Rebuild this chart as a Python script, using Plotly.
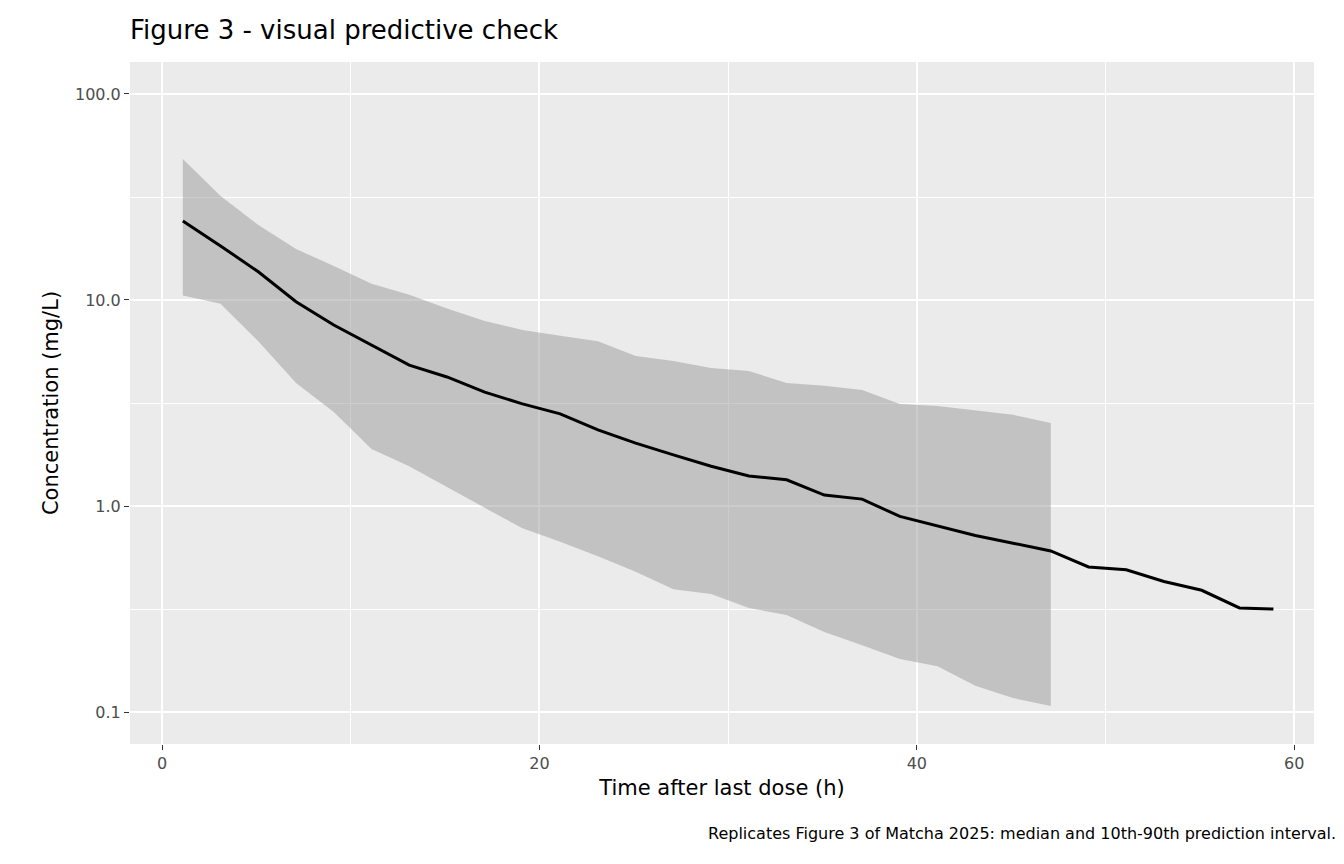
import plotly.graph_objects as go

# times (h) and concentrations (mg/L)
time = [1.1 + 2 * i for i in range(29)] + [58.9]
median = [24.2, 18.3, 13.7, 9.8, 7.56, 6.05, 4.83, 4.23, 3.57, 3.13, 2.80, 2.34,
          2.02, 1.77, 1.56, 1.40, 1.34, 1.13, 1.08, 0.89, 0.80, 0.72, 0.66, 0.605,
          0.506, 0.49, 0.43, 0.39, 0.32, 0.316]
band_time = time[:24]
upper = [48.3, 32.0, 23.1, 17.7, 14.6, 12.0, 10.6, 9.1, 7.9, 7.15, 6.7, 6.3,
         5.35, 5.06, 4.68, 4.52, 3.95, 3.83, 3.66, 3.13, 3.06, 2.92, 2.77, 2.53]
lower = [10.5, 9.6, 6.3, 3.95, 2.86, 1.89, 1.56, 1.24, 0.98, 0.78, 0.67, 0.57,
         0.48, 0.395, 0.374, 0.32, 0.296, 0.245, 0.211, 0.181, 0.167, 0.134, 0.117, 0.107]

fig = go.Figure()
fig.add_trace(go.Scatter(x=band_time + band_time[::-1], y=upper + lower[::-1],
                         fill="toself", fillcolor="rgba(153,153,153,0.5)",
                         line=dict(width=0), mode="lines", hoverinfo="skip"))
fig.add_trace(go.Scatter(x=time, y=median, mode="lines",
                         line=dict(color="black", width=3)))

fig.update_layout(
    width=1344, height=864, showlegend=False,
    font=dict(family="DejaVu Sans", color="black"),
    paper_bgcolor="white", plot_bgcolor="#EBEBEB",
    margin=dict(l=122, r=38, t=54, b=128),
    title=dict(text="Figure 3 - visual predictive check", x=122 / 1344, xanchor="left",
               y=0.975, yanchor="middle", font=dict(size=26)),
    xaxis=dict(range=[-1.7, 61.05], tickvals=[0, 20, 40, 60], showgrid=True,
               gridcolor="white", gridwidth=2, zeroline=False, ticks="outside",
               ticklen=5, tickcolor="#333333", tickfont=dict(size=16, color="#4D4D4D"),
               title=dict(text="Time after last dose (h)", font=dict(size=21), standoff=8),
               minor=dict(tickvals=[10, 30, 50], showgrid=True, gridcolor="white",
                          gridwidth=1, ticks="")),
    yaxis=dict(type="log", range=[-1.155, 2.155], tickvals=[0.1, 1, 10, 100],
               ticktext=["0.1", "1.0", "10.0", "100.0"], showgrid=True,
               gridcolor="white", gridwidth=2, zeroline=False, ticks="outside",
               ticklen=5, tickcolor="#333333", tickfont=dict(size=16, color="#4D4D4D"),
               title=dict(text="Concentration (mg/L)", font=dict(size=21), standoff=10),
               minor=dict(tickvals=[0.316, 3.16, 31.6], showgrid=True, gridcolor="white",
                          gridwidth=1, ticks="")),
    annotations=[dict(text="Replicates Figure 3 of Matcha 2025: median and 10th-90th prediction interval.",
                      xref="paper", yref="paper", x=1.02, y=-0.115, xanchor="right",
                      yanchor="top", showarrow=False, font=dict(size=16))],
)

fig.write_html("out.html")
